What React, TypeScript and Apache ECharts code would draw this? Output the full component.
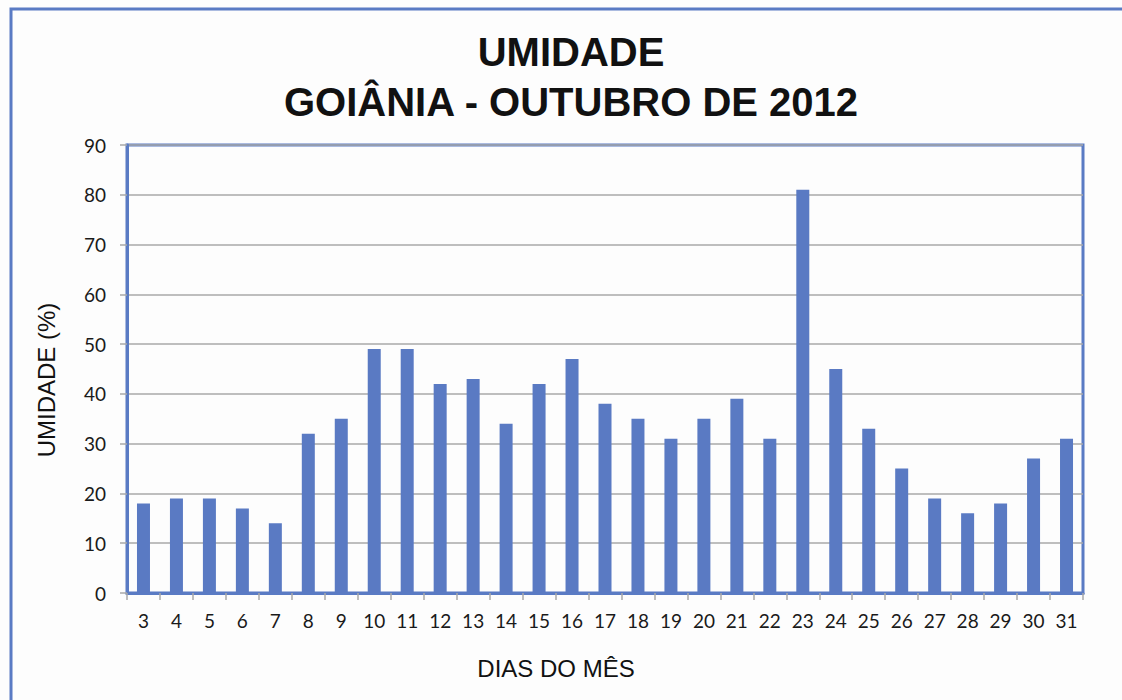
import React, { useEffect, useRef } from "react";
import * as echarts from "echarts";

const days = ["3","4","5","6","7","8","9","10","11","12","13","14","15","16","17","18","19","20","21","22","23","24","25","26","27","28","29","30","31"];
const humidity = [18,19,19,17,14,32,35,49,49,42,43,34,42,47,38,35,31,35,39,31,81,45,33,25,19,16,18,27,31];
const titleLines = ["UMIDADE", "GOIÂNIA - OUTUBRO DE 2012"];
const yAxisTitle = "UMIDADE (%)";
const xAxisTitle = "DIAS DO MÊS";

const BLUE = "#5a7bc4";
const BAR = "#5a7ac3";
const GRID = "#a8a8a8";

export default function App() {
  const ref = useRef<HTMLDivElement>(null);
  useEffect(() => {
    if (!ref.current) return;
    const chart = echarts.init(ref.current, null, { renderer: "svg" });
    chart.setOption({
      animation: false,
      backgroundColor: "#fdfdfd",
      title: {
        text: titleLines.join("\n"),
        left: 566,
        top: 22,
        textAlign: "center",
        textStyle: {
          fontFamily: "Liberation Sans, Arial, sans-serif",
          fontWeight: "bold",
          fontSize: 40,
          lineHeight: 50,
          color: "#111",
        },
      },
      grid: {
        left: 127,
        top: 145,
        right: 39,
        bottom: 107,
        show: true,
        borderColor: BLUE,
        borderWidth: 3,
        backgroundColor: "transparent",
      },
      xAxis: {
        type: "category",
        data: days,
        boundaryGap: true,
        axisLine: { show: true, lineStyle: { color: BLUE, width: 3 } },
        axisTick: { show: true, alignWithLabel: false, length: 7, lineStyle: { color: GRID, width: 1.5 } },
        axisLabel: {
          margin: 18,
          fontFamily: "Lato, sans-serif",
          fontSize: 19,
          color: "#1a1a1a",
          interval: 0,
        },
        splitLine: { show: false },
      },
      yAxis: {
        type: "value",
        min: 0,
        max: 90,
        interval: 10,
        axisLine: { show: true, lineStyle: { color: BLUE, width: 3 } },
        axisTick: { show: true, length: 7, lineStyle: { color: GRID, width: 1.5 } },
        axisLabel: {
          margin: 21,
          fontFamily: "Lato, sans-serif",
          fontSize: 19,
          color: "#1a1a1a",
        },
        splitLine: { show: true, lineStyle: { color: GRID, width: 1.5 } },
      },
      series: [
        {
          type: "bar",
          data: humidity,
          barWidth: 13,
          itemStyle: { color: BAR },
        },
      ],
      graphic: [
        {
          type: "rect",
          shape: { x: 11, y: 9, width: 1300, height: 900 },
          style: { fill: "none", stroke: BLUE, lineWidth: 3 },
          silent: true,
        },
        {
          type: "text",
          x: 46,
          y: 380,
          rotation: Math.PI / 2,
          style: {
            text: yAxisTitle,
            fontFamily: "Liberation Sans, Arial, sans-serif",
            fontSize: 24,
            fill: "#111",
            textAlign: "center",
            textVerticalAlign: "middle",
          },
        },
        {
          type: "text",
          x: 556,
          y: 668,
          style: {
            text: xAxisTitle,
            fontFamily: "Liberation Sans, Arial, sans-serif",
            fontSize: 24,
            fill: "#111",
            textAlign: "center",
            textVerticalAlign: "middle",
          },
        },
      ],
    });
    return () => chart.dispose();
  }, []);
  return (
    <div
      ref={ref}
      style={{ position: "fixed", left: 0, top: 0, width: 1122, height: 700 }}
    />
  );
}
